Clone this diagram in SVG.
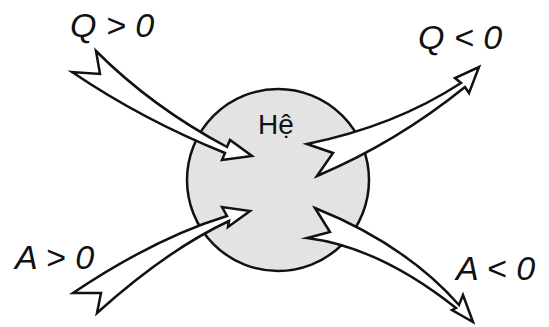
<svg xmlns="http://www.w3.org/2000/svg" width="549" height="327" viewBox="0 0 549 327">
<style>
.lbl{font-family:"Liberation Sans",Arial,sans-serif;font-style:italic;font-size:34px;fill:#111}
.sys{font-family:"Liberation Sans",Arial,sans-serif;font-size:28px;fill:#111}
.arr{fill:#fff;stroke:#111;stroke-width:2.5;stroke-linejoin:miter;stroke-miterlimit:10}
</style>
<rect width="549" height="327" fill="#fff"/>
<g id="system">
<circle cx="278" cy="180" r="91" fill="#e3e3e3" stroke="#111" stroke-width="2.5"/>
<text class="sys" x="258" y="134">Hệ</text>
</g>
<g id="connectors">
<path id="q-in" class="arr" d="M96,51 Q152,107 227,147 L230,140 L252,156 L222,160 L225,153 Q143,120 72,72 L100,74 Z"/>
<path id="q-out" class="arr" d="M307,144 Q395,126 461,83 L455,78 L479,67 L469,93 L465,87 Q397,142 317,176 L333,153 Z"/>
<path id="a-in" class="arr" d="M73,293 Q155,238 227,216 L222,207 L250,211 L228,227 L229,221 Q167,250 97,313 L101,293 Z"/>
<path id="a-out" class="arr" d="M315,208 Q405,244 459,305 L463,295 L473,322 L452,310 L456,308 Q379,247 307,238 L330,232 Z"/>
</g>
<g id="label-q-pos"><text class="lbl" x="70" y="37">Q &gt; 0</text></g>
<g id="label-q-neg"><text class="lbl" x="418" y="49">Q &lt; 0</text></g>
<g id="label-a-pos"><text class="lbl" x="15" y="269">A &gt; 0</text></g>
<g id="label-a-neg"><text class="lbl" x="456" y="280">A &lt; 0</text></g>
</svg>
